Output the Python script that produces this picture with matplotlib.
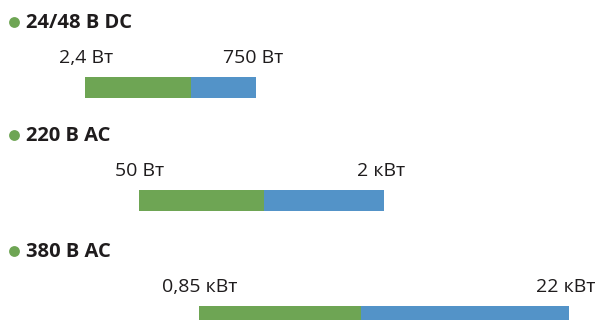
import matplotlib
matplotlib.use('Agg')
import matplotlib.pyplot as plt

# напряжение питания и диапазон мощности для каждой группы
groups = ['24/48 В DC', '220 В AC', '380 В AC']
min_labels = ['2,4 Вт', '50 Вт', '0,85 кВт']
max_labels = ['750 Вт', '2 кВт', '22 кВт']

# положение полос на условной шкале (начало, граница цветов, конец)
bar_start = [85, 139, 199]
bar_split = [191, 264, 361]
bar_end = [256, 384, 569]

# вертикальное положение строк
row_top = [22, 135, 251]

green = '#6ea554'
blue = '#5393c8'
text_color = '#1f1c1d'

plt.rcParams['font.family'] = ['Open Sans', 'DejaVu Sans']

fig = plt.figure(figsize=(5.98, 3.20), dpi=100)
ax = fig.add_axes([0, 0, 1, 1])
ax.set_xlim(0, 598)
ax.set_ylim(320, 0)
ax.axis('off')

for i in range(len(groups)):
    y = row_top[i]
    # маркер и заголовок группы
    ax.plot(14, y, 'o', color=green, markersize=7.8, markeredgewidth=0)
    ax.text(26, y + 1, groups[i], fontsize=14.5, fontweight='bold',
            color=text_color, va='center', ha='left')
    # подписи минимума и максимума
    ax.text(bar_start[i] + 1, y + 36, min_labels[i], fontsize=14,
            color=text_color, va='center', ha='center')
    ax.text(bar_end[i] - 3, y + 36, max_labels[i], fontsize=14,
            color=text_color, va='center', ha='center')
    # полоса: зелёная и синяя части
    ax.barh(y + 65, bar_split[i] - bar_start[i], left=bar_start[i],
            height=21, color=green, linewidth=0)
    ax.barh(y + 65, bar_end[i] - bar_split[i], left=bar_split[i],
            height=21, color=blue, linewidth=0)

fig.savefig('out.png', dpi=100, facecolor='white')
